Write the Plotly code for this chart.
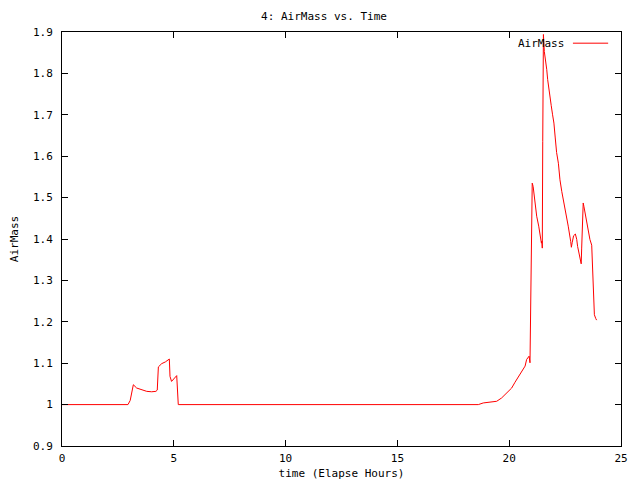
import plotly.graph_objects as go

time_hours = [0.0, 1.0, 2.0, 2.95, 3.05, 3.19, 3.34, 3.56, 3.79, 4.01, 4.20, 4.26, 4.31, 4.46, 4.62, 4.80,
              4.83, 4.90, 5.00, 5.13, 5.20, 6.0, 10.0, 15.0, 18.62, 18.84, 19.21, 19.44, 19.66, 19.88,
              20.11, 20.26, 20.41, 20.56, 20.71, 20.78, 20.89, 20.93, 20.95, 20.99, 21.03, 21.07, 21.15,
              21.23, 21.32, 21.38, 21.44, 21.46, 21.48, 21.50, 21.53, 21.57, 21.63, 21.68, 21.72, 21.78,
              21.82, 21.88, 21.94, 22.00, 22.06, 22.12, 22.20, 22.23, 22.27, 22.35, 22.42, 22.50, 22.60,
              22.64, 22.75, 22.78, 22.82, 22.88, 22.96, 23.02, 23.06, 23.12, 23.18, 23.22, 23.24, 23.27,
              23.31, 23.34, 23.42, 23.49, 23.55, 23.61, 23.69, 23.73, 23.78, 23.81, 23.87, 23.91]
airmass = [1.0, 1.0, 1.0, 1.0, 1.01, 1.048, 1.040, 1.036, 1.032, 1.031, 1.032, 1.035, 1.091, 1.099, 1.103, 1.110,
           1.068, 1.056, 1.062, 1.070, 1.0, 1.0, 1.0, 1.0, 1.0, 1.004, 1.0056, 1.008, 1.016, 1.027,
           1.040, 1.054, 1.067, 1.078, 1.093, 1.109, 1.117, 1.101, 1.207, 1.424, 1.535, 1.527, 1.491,
           1.455, 1.431, 1.406, 1.390, 1.395, 1.378, 1.636, 1.894, 1.853, 1.833, 1.809, 1.785, 1.765,
           1.741, 1.722, 1.700, 1.680, 1.644, 1.609, 1.583, 1.560, 1.543, 1.515, 1.495, 1.475, 1.447,
           1.431, 1.394, 1.380, 1.392, 1.408, 1.412, 1.399, 1.382, 1.366, 1.349, 1.340, 1.376, 1.449,
           1.487, 1.479, 1.455, 1.431, 1.415, 1.399, 1.385, 1.338, 1.260, 1.217, 1.208, 1.204]

x_ticks = [0, 5, 10, 15, 20, 25]
y_ticks = [0.9, 1.0, 1.1, 1.2, 1.3, 1.4, 1.5, 1.6, 1.7, 1.8, 1.9]
y_tick_labels = ["0.9", "1", "1.1", "1.2", "1.3", "1.4", "1.5", "1.6", "1.7", "1.8", "1.9"]

FONT = "DejaVu Sans Mono"

fig = go.Figure()
fig.add_trace(go.Scatter(x=time_hours, y=airmass, mode="lines",
                         line=dict(color="#ff0000", width=1), name="AirMass",
                         showlegend=False))

axis_common = dict(showgrid=False, zeroline=False, showline=True, linecolor="black",
                   linewidth=1, mirror="ticks", ticks="inside", ticklen=6,
                   tickcolor="black", tickwidth=1, automargin=False,
                   tickfont=dict(family=FONT, size=11, color="black"))

fig.update_layout(
    width=632, height=472,
    margin=dict(l=54, r=19, t=24, b=34, autoexpand=False),
    paper_bgcolor="white", plot_bgcolor="white",
    title=dict(text="4: AirMass vs. Time", x=0.5, xanchor="center", y=0.983, yanchor="middle",
               font=dict(family=FONT, size=11, color="black"), automargin=False),
    xaxis=dict(range=[0, 25], tickvals=x_ticks, ticktext=[str(v) for v in x_ticks],
               ticklabelstandoff=2,
               title=dict(text="time (Elapse Hours)", standoff=5,
                          font=dict(family=FONT, size=11, color="black")),
               **axis_common),
    yaxis=dict(range=[0.9, 1.9], tickvals=y_ticks, ticktext=y_tick_labels,
               ticklabelstandoff=6,
               title=dict(text="AirMass", standoff=17,
                          font=dict(family=FONT, size=11, color="black")),
               **axis_common),
)

# gnuplot-style key: label then sample line
fig.add_annotation(xref="paper", yref="paper", x=0.902, y=0.973, xanchor="right", yanchor="middle",
                   text="AirMass", showarrow=False,
                   font=dict(family=FONT, size=11, color="black"))
fig.add_shape(type="line", xref="paper", yref="paper", x0=0.914, x1=0.977, y0=0.973, y1=0.973,
              line=dict(color="#ff0000", width=1))

fig.write_html("out.html")
